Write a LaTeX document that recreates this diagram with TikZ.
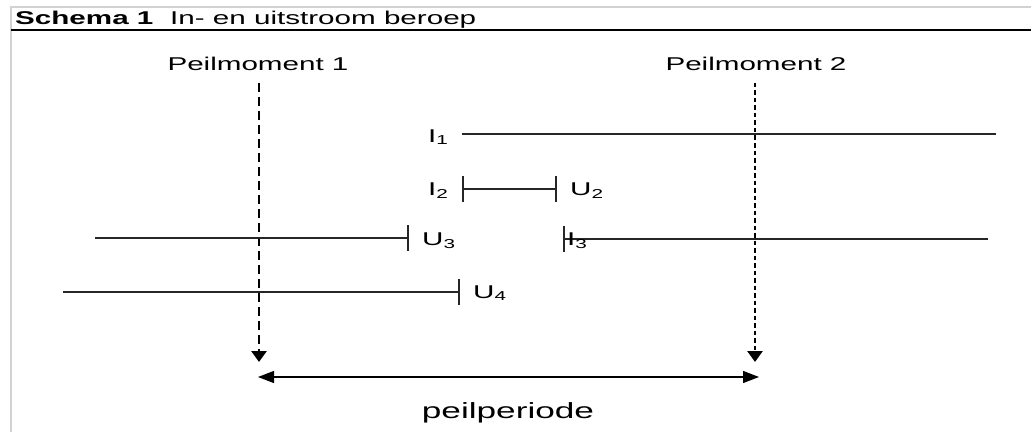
\documentclass[tikz,border=0pt]{standalone}
\usepackage{fontspec}
\setmainfont{Liberation Sans}[FakeStretch=1.6]
\usetikzlibrary{arrows.meta}

\begin{document}
\begin{tikzpicture}[x=1pt,y=1pt,font=\fontsize{18.5}{22}\selectfont,
  lijn/.style={line width=1.2pt,black!85},
  tekst/.style={anchor=base west,inner sep=0pt},
  peilpijl/.style={line width=2.7pt,-{Triangle[width=15pt,length=11pt]}},
  periode/.style={line width=1.3pt,{Triangle[width=12pt,length=16pt]}-{Triangle[width=12pt,length=16pt]}}]

\useasboundingbox (0,0) rectangle (1031,432);

% kader en titel
\draw[gray!35,line width=1.5pt] (11,0) -- (11,425) -- (1031,425);
\draw[line width=1.5pt] (11,402) -- (1031,402);
\node [tekst] at (15,407) (titel) {\textbf{Schema 1}};
\node [tekst] at (170,407) (titeltekst) {In- en uitstroom beroep};

% peilmomenten
\node [anchor=base,inner sep=0pt] at (258,361) (peil1) {Peilmoment 1};
\node [anchor=base,inner sep=0pt] at (756,361) (peil2) {Peilmoment 2};
\coordinate (m1) at (259,70);
\coordinate (m2) at (755,70);

\draw[peilpijl,dash pattern=on 9pt off 5pt] ([xshift=1pt,yshift=-12pt]peil1.base) -- (m1);
\draw[peilpijl,dash pattern=on 4.5pt off 3pt] ([xshift=-1pt,yshift=-12pt]peil2.base) -- (m2);

% in- en uitstroom
\coordinate (i1a) at (462,298);
\coordinate (i1b) at (996,298);
\coordinate (i2a) at (463,243);
\coordinate (u2b) at (556,243);
\coordinate (u3a) at (95,194);
\coordinate (u3b) at (408,194);
\coordinate (i3a) at (564,193);
\coordinate (i3b) at (988,193);
\coordinate (u4a) at (63,140);
\coordinate (u4b) at (459,140);

\draw[lijn] (i1a) -- (i1b);
\draw[lijn] (i2a) -- (u2b);
\draw[lijn] (u3a) -- (u3b);
\draw[lijn] (i3a) -- (i3b);
\draw[lijn] (u4a) -- (u4b);

\foreach \p in {i2a,u2b,u3b,i3a,u4b}
  \draw[lijn,line width=1.6pt] ([yshift=13pt]\p) -- ([yshift=-13pt]\p);

\node [tekst] at (428,290) (li1) {I\textsubscript{1}};
\node [tekst] at (428,237) (li2) {I\textsubscript{2}};
\node [tekst] at (570,237) (lu2) {U\textsubscript{2}};
\node [tekst] at (422,187) (lu3) {U\textsubscript{3}};
\node [tekst] at (567,187) (li3) {I\textsubscript{3}};
\node [tekst] at (473,134) (lu4) {U\textsubscript{4}};

% peilperiode
\coordinate (pp1) at (258,55);
\coordinate (pp2) at (759,55);
\draw[periode] (pp1) -- (pp2);
\node [anchor=base,inner sep=0pt,font=\fontsize{22}{26}\selectfont] at (508,14) (periode) {peilperiode};

\end{tikzpicture}
\end{document}
